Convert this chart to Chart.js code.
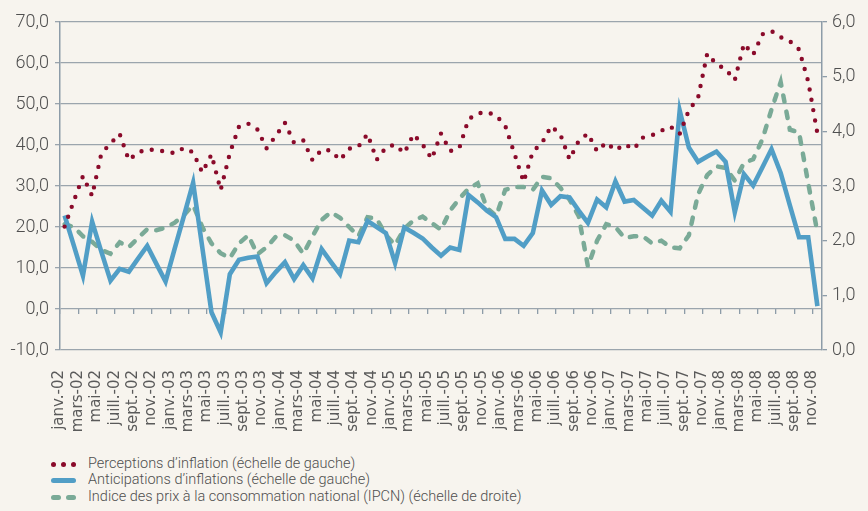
<!DOCTYPE html>
<html>
<head>
<meta charset="utf-8">
<script src="https://cdn.jsdelivr.net/npm/chart.js@4.4.0/dist/chart.umd.min.js"></script>
<style>
html,body{margin:0;padding:0;background:#f7f4ee;}
#wrap{position:relative;width:868px;height:511px;background:#f7f4ee;overflow:hidden;}
#cvbox{position:absolute;left:0;top:0;width:868px;height:455px;}
.row{position:absolute;left:0;height:16px;width:868px;}
.txt{position:absolute;left:88px;top:0;font:300 14.5px Roboto, "DejaVu Sans", sans-serif;color:#4f4f4f;line-height:16px;white-space:nowrap;}
.dot{position:absolute;top:6px;width:5px;height:5px;border-radius:50%;background:#8a0a2a;}
.bar{position:absolute;top:6px;height:5px;border-radius:3px;}
</style>
</head>
<body>
<div id="wrap">
  <div id="cvbox"><canvas id="cv" width="868" height="455"></canvas></div>
  <div class="row" style="top:456px">
    <span class="dot" style="left:51px"></span><span class="dot" style="left:61px"></span><span class="dot" style="left:71px"></span>
    <span class="txt">Perceptions d’inflation (échelle de gauche)</span>
  </div>
  <div class="row" style="top:472px">
    <span class="bar" style="left:51px;width:25px;background:#519ec6"></span>
    <span class="txt">Anticipations d’inflations (échelle de gauche)</span>
  </div>
  <div class="row" style="top:489px">
    <span class="bar" style="left:51px;width:10px;background:#7aaa97"></span><span class="bar" style="left:66px;width:10px;background:#7aaa97"></span>
    <span class="txt">Indice des prix à la consommation national (IPCN) (échelle de droite)</span>
  </div>
</div>
<script>
const categories = [
 "janv.-02","févr.-02","mars-02","avr.-02","mai-02","juin-02","juill.-02","août-02","sept.-02","oct.-02","nov.-02","déc.-02",
 "janv.-03","févr.-03","mars-03","avr.-03","mai-03","juin-03","juill.-03","août-03","sept.-03","oct.-03","nov.-03","déc.-03",
 "janv.-04","févr.-04","mars-04","avr.-04","mai-04","juin-04","juill.-04","août-04","sept.-04","oct.-04","nov.-04","déc.-04",
 "janv.-05","févr.-05","mars-05","avr.-05","mai-05","juin-05","juill.-05","août-05","sept.-05","oct.-05","nov.-05","déc.-05",
 "janv.-06","févr.-06","mars-06","avr.-06","mai-06","juin-06","juill.-06","août-06","sept.-06","oct.-06","nov.-06","déc.-06",
 "janv.-07","févr.-07","mars-07","avr.-07","mai-07","juin-07","juill.-07","août-07","sept.-07","oct.-07","nov.-07","déc.-07",
 "janv.-08","févr.-08","mars-08","avr.-08","mai-08","juin-08","juill.-08","août-08","sept.-08","oct.-08","nov.-08"
];

// Perceptions d'inflation (left scale)
const perceptions = [
 20.1,26.3,32.4,27.6,37.9,40.4,42.7,36.3,38.2,38.9,38.8,38.4,
 38.0,39.3,38.2,33.3,37.7,29.0,38.0,44.5,45.2,43.8,39.2,42.2,
 45.4,40.5,41.1,36.3,38.8,38.7,36.3,39.1,39.6,42.7,36.4,39.4,
 40.1,38.0,42.6,40.1,36.6,42.8,38.5,39.3,46.3,47.7,48.0,47.2,
 44.7,37.9,31.0,38.4,40.5,44.6,42.6,36.5,41.0,42.8,38.5,40.6,
 38.7,40.2,39.0,41.8,42.4,43.5,44.5,42.7,48.5,51.5,62.3,59.7,
 58.5,55.8,64.7,62.0,67.0,67.8,66.3,65.3,63.3,55.5,42.8
];

// Anticipations d'inflations (left scale)
const anticipations = [
 22.8,15.5,8.1,21.3,14.0,6.9,9.8,9.1,12.3,15.4,11.0,6.7,
 14.8,22.7,30.8,15.0,-0.8,-5.7,8.5,12.0,12.5,12.8,6.3,9.0,
 11.4,7.3,10.7,7.5,14.6,11.5,8.5,16.7,16.3,21.5,20.0,18.5,
 11.2,19.9,18.6,17.2,15.0,13.0,15.0,14.4,27.8,26.0,24.0,22.4,
 17.1,17.1,15.4,18.5,28.9,25.4,27.5,27.2,24.0,21.0,26.7,24.8,
 31.1,26.2,26.6,24.7,22.8,26.4,23.7,48.4,39.4,35.9,37.2,38.4,
 35.9,23.6,32.9,30.1,34.5,39.0,33.2,25.3,17.5,17.5,0.7
];

// IPCN (right scale)
const ipcn = [
 2.30,2.25,2.08,1.98,1.83,1.76,1.97,1.88,2.05,2.21,2.19,2.24,
 2.33,2.47,2.65,2.25,1.95,1.77,1.68,1.95,2.10,1.75,1.88,2.07,
 2.10,2.00,1.76,2.08,2.38,2.52,2.42,2.25,2.08,2.43,2.40,2.10,
 1.92,2.22,2.37,2.44,2.32,2.20,2.55,2.77,2.95,3.05,2.60,2.45,
 2.93,2.98,2.98,2.93,3.17,3.14,2.97,2.75,2.45,1.53,2.00,2.30,
 2.25,2.05,2.08,2.08,1.95,2.00,1.88,1.86,2.10,2.85,3.20,3.36,
 3.33,3.10,3.42,3.49,3.85,4.40,4.90,4.03,3.98,3.05,2.15
];

const leftTicks = [-10,0,10,20,30,40,50,60,70];
const rightTicks = [0,1,2,3,4,5,6];

const gridColor = '#9ba5ad';
const axisColor = '#8d9ca8';
const fmt = v => v.toFixed(1).replace('.', ',');

new Chart(document.getElementById('cv'), {
  type: 'line',
  data: {
    labels: categories,
    datasets: [
      {
        label: 'Perceptions d’inflation (échelle de gauche)',
        data: perceptions, yAxisID: 'y', xAxisID: 'x',
        borderColor: '#8a0a2a', borderWidth: 4.4,
        borderDash: [0, 10.5], borderCapStyle: 'round',
        pointRadius: 0, tension: 0, fill: false
      },
      {
        label: 'Anticipations d’inflations (échelle de gauche)',
        data: anticipations, yAxisID: 'y', xAxisID: 'x',
        borderColor: '#519ec6', borderWidth: 4.6,
        borderJoinStyle: 'miter',
        pointRadius: 0, tension: 0, fill: false
      },
      {
        label: 'Indice des prix à la consommation national (IPCN) (échelle de droite)',
        data: ipcn, yAxisID: 'y1', xAxisID: 'x',
        borderColor: '#7aaa97', borderWidth: 4.5,
        borderDash: [6.5, 10], borderCapStyle: 'round',
        pointRadius: 0, tension: 0, fill: false
      }
    ]
  },
  options: {
    responsive: false,
    animation: false,
    events: [],
    layout: { padding: { top: 22, left: 0, right: 0, bottom: 0 } },
    plugins: { legend: { display: false }, tooltip: { enabled: false } },
    scales: {
      x: {
        type: 'category',
        position: 'bottom',
        offset: true,
        grid: { display: false, drawTicks: false },
        border: { display: false },
        afterFit: s => { s.height = 105; },
        ticks: {
          autoSkip: false,
          minRotation: 90, maxRotation: 90,
          padding: 20,
          labelOffset: -5,
          color: '#5a5a5a',
          font: { family: 'DejaVu Sans', size: 15 },
          callback: function (v, i) { return i % 2 === 0 ? this.getLabelForValue(v) : ''; }
        }
      },
      x2: {
        type: 'category',
        position: { y: 0 },
        offset: true,
        border: { display: false },
        grid: {
          drawOnChartArea: false, drawTicks: true, tickLength: 5, offset: true,
          lineWidth: 1.3,
          color: ctx => (ctx.index % 2 === 0 ? axisColor : 'rgba(0,0,0,0)')
        },
        ticks: { display: false, autoSkip: false }
      },
      y: {
        position: 'left',
        min: -10, max: 70,
        afterFit: s => { s.width = 60; },
        afterBuildTicks: s => { s.ticks = leftTicks.map(v => ({ value: v })); },
        grid: { color: gridColor, lineWidth: 1.3, tickLength: 5, drawTicks: true },
        border: { display: true, color: axisColor, width: 1.5 },
        ticks: {
          padding: 6,
          color: '#4f4f4f',
          font: { family: 'Roboto', size: 18, weight: '300' },
          callback: v => fmt(v)
        }
      },
      y1: {
        position: 'right',
        min: 0, max: 6,
        afterFit: s => { s.width = 46; },
        afterBuildTicks: s => { s.ticks = rightTicks.map(v => ({ value: v })); },
        grid: { drawOnChartArea: false, color: axisColor, lineWidth: 1.3, tickLength: 5 },
        border: { display: true, color: axisColor, width: 1.5 },
        ticks: {
          padding: 5,
          color: '#4f4f4f',
          font: { family: 'Roboto', size: 18, weight: '300' },
          callback: v => fmt(v)
        }
      }
    }
  }
});
</script>
</body>
</html>
